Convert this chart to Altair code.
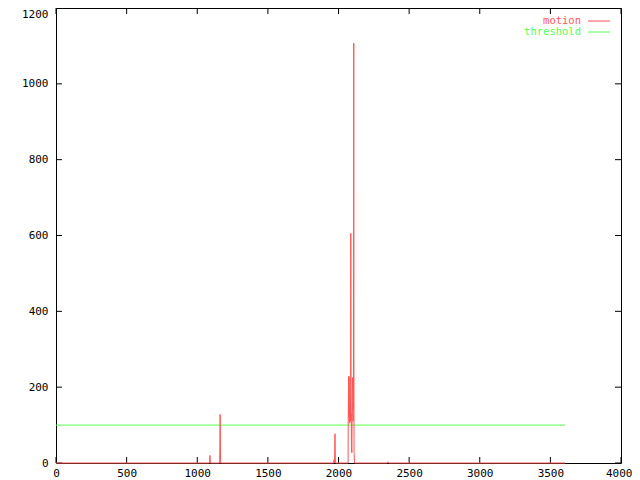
import altair as alt
import pandas as pd

# ---- data ----
frame = [0, 1087, 1090, 1093, 1159, 1162, 1165, 1965, 1969, 1972, 1975, 1978,
         2068, 2069, 2070, 2071, 2072, 2073, 2074, 2075, 2076, 2077, 2078, 2079,
         2080, 2081, 2082, 2083, 2084, 2085, 2086, 2087, 2088, 2089, 2090, 2091,
         2092, 2093, 2094, 2095, 2096, 2097, 2098, 2099, 2100, 2101, 2102, 2103,
         2104, 2105, 2106, 2107, 2108, 2109, 2110, 2111, 2113,
         2346, 2350, 2354, 3604]
motion = [0, 0, 20, 0, 0, 128, 0, 0, 9, 0, 77, 0,
          0, 120, 150, 200, 228, 180, 120, 228, 160, 110, 140, 105,
          160, 130, 150, 120, 110, 140, 200, 606, 300, 115, 130, 100,
          40, 28, 30, 28, 120, 150, 180, 225, 200, 225, 130, 110,
          160, 140, 200, 500, 1107, 300, 30, 25, 0,
          0, 3, 0, 0]
threshold_x = [0, 3604]
threshold_y = [100, 100]
x_ticks = [0, 500, 1000, 1500, 2000, 2500, 3000, 3500, 4000]
y_ticks = [0, 200, 400, 600, 800, 1000, 1200]
legend_labels = ["motion", "threshold"]
legend_colors = ["#ff5555", "#55ff55"]

W, H = 565, 455
FONT = "DejaVu Sans Mono"
xs = alt.Scale(domain=[0, 4000], nice=False, zero=False)
ys = alt.Scale(domain=[0, 1200], nice=False, zero=False)

motion_df = pd.DataFrame({"frame": frame, "motion": motion})
thr_df = pd.DataFrame({"frame": threshold_x, "value": threshold_y})
xt = pd.DataFrame({"t": x_ticks})
yt = pd.DataFrame({"t": y_ticks})

axis_x = alt.Axis(values=x_ticks, ticks=False, domain=False, grid=False, title=None,
                  format="d", labelFont=FONT, labelFontSize=11, labelColor="black",
                  labelPadding=4, labelFlush=False, labelOverlap=False,
                  labelAlign={"condition": {"test": "datum.value >= 4000", "value": "right"},
                              "value": "center"},
                  labelOffset={"condition": {"test": "datum.value >= 4000", "value": 11},
                               "value": 0})
axis_y = alt.Axis(values=y_ticks, ticks=False, domain=False, grid=False, title=None,
                  format="d", labelFont=FONT, labelFontSize=11, labelColor="black",
                  labelPadding=8, labelFlush=False, labelOverlap=False,
                  labelBaseline={"condition": {"test": "datum.value >= 1200", "value": "top"},
                                 "value": "middle"})

thr = alt.Chart(thr_df).mark_line(color=legend_colors[1], strokeWidth=1).encode(
    x=alt.X("frame:Q", scale=xs, axis=axis_x),
    y=alt.Y("value:Q", scale=ys, axis=axis_y),
)
mot = alt.Chart(motion_df).mark_line(color=legend_colors[0], strokeWidth=1).encode(
    x=alt.X("frame:Q", scale=xs, axis=axis_x),
    y=alt.Y("motion:Q", scale=ys, axis=axis_y),
)

TL = 6
bt = alt.Chart(xt).mark_rule(color="black").encode(
    x=alt.X("t:Q", scale=xs, axis=axis_x), y=alt.value(H), y2=alt.value(H - TL))
tt = alt.Chart(xt).mark_rule(color="black").encode(
    x=alt.X("t:Q", scale=xs, axis=axis_x), y=alt.value(0), y2=alt.value(TL))
lt = alt.Chart(yt).mark_rule(color="black").encode(
    y=alt.Y("t:Q", scale=ys, axis=axis_y), x=alt.value(0), x2=alt.value(TL))
rt = alt.Chart(yt).mark_rule(color="black").encode(
    y=alt.Y("t:Q", scale=ys, axis=axis_y), x=alt.value(W), x2=alt.value(W - TL))

legend_layers = []
for i, (lab, col) in enumerate(zip(legend_labels, legend_colors)):
    yy = 13 + i * 11
    legend_layers.append(
        alt.Chart(pd.DataFrame({"label": [lab]})).mark_text(
            align="right", baseline="middle", color=col, font=FONT, fontSize=10.5
        ).encode(x=alt.value(525), y=alt.value(yy), text="label:N")
    )
    legend_layers.append(
        alt.Chart(pd.DataFrame({"label": [lab]})).mark_rule(color=col, strokeWidth=1).encode(
            x=alt.value(532), x2=alt.value(554), y=alt.value(yy))
    )

chart = alt.layer(bt, tt, lt, rt, thr, mot, *legend_layers).properties(
    width=W, height=H,
    autosize=alt.AutoSizeParams(type="none"),
    padding={"left": 48, "top": 0, "right": 11, "bottom": 17},
    background="white",
).configure_view(stroke="black", strokeWidth=1)

chart.save("out.html", embed_options={"renderer": "svg", "actions": False})
